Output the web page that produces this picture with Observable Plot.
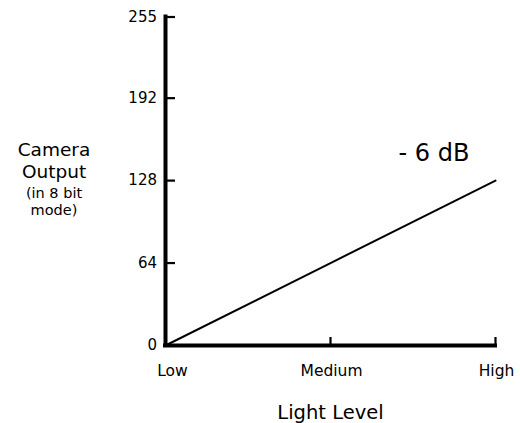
<!DOCTYPE html>
<html>
<head>
<meta charset="utf-8">
<script src="https://cdn.jsdelivr.net/npm/d3@7"></script>
<script src="https://cdn.jsdelivr.net/npm/@observablehq/plot@0.6"></script>
<style>
  html, body { margin: 0; padding: 0; background: #fff; }
  svg { display: block; }
</style>
</head>
<body>
<div id="chart"></div>
<script>
const levels = ["Low", "Medium", "High"];
const outputValues = [0, 64, 128];
const yTicks = [0, 64, 128, 192, 255];
const yTickLabels = ["0", "64", "128", "192", "255"];
const seriesLabel = "- 6 dB";
const xTitle = "Light Level";
const yTitleMain = "Camera\nOutput";
const yTitleSub = "(in 8 bit\nmode)";

const lineData = levels.map((l, i) => ({level: l, value: outputValues[i]}));
const FONT = "DejaVu Sans, Liberation Sans, Arial, sans-serif";

const chart = Plot.plot({
  width: 520,
  height: 423,
  marginLeft: 164.5,
  marginRight: 25,
  marginTop: 16.5,
  marginBottom: 78,
  style: {fontFamily: FONT, background: "#fff"},
  x: {type: "point", domain: levels, padding: 0, axis: null},
  y: {domain: [0, 255], axis: null},
  marks: [
    // y ticks (inward)
    Plot.ruleY(yTicks, {y: d => d, x1: () => "Low", x2: () => "Low", insetRight: -10, stroke: "#000", strokeWidth: 2.2}),
    // x ticks (inward, upward)
    Plot.ruleX(levels.slice(1), {x: d => d, y1: () => 0, y2: () => 0, insetTop: -8, stroke: "#000", strokeWidth: 2.2}),
    // axis lines
    Plot.ruleX(["Low"], {x: d => d, y1: 0, y2: 255, stroke: "#000", strokeWidth: 4, strokeLinecap: "square"}),
    Plot.ruleY([0], {y: d => d, x1: () => "Low", x2: () => "High", stroke: "#000", strokeWidth: 4, strokeLinecap: "square"}),
    // the response line
    Plot.line(lineData, {x: "level", y: "value", stroke: "#000", strokeWidth: 2}),
    // y tick labels
    Plot.text(yTicks, {x: () => "Low", y: d => d, text: (d, i) => yTickLabels[i], textAnchor: "end", dx: -8.5, fontSize: 15, fill: "#000"}),
    // x tick labels
    Plot.text(levels.slice(0, 1), {x: d => d, y: () => 0, text: d => d, dx: 7, dy: 30, lineAnchor: "bottom", fontSize: 15.5, fill: "#000"}),
    Plot.text(levels.slice(1), {x: d => d, y: () => 0, text: d => d, dx: 1, dy: 30, lineAnchor: "bottom", fontSize: 15.5, fill: "#000"}),
    // series annotation
    Plot.text([seriesLabel], {x: () => "High", y: () => 128, text: d => d, textAnchor: "start", lineAnchor: "bottom", dx: -97, dy: -20, fontSize: 24, fill: "#000"}),
    // x title
    Plot.text([xTitle], {x: () => "Medium", y: () => 0, text: d => d, lineAnchor: "bottom", dy: 73, fontSize: 19.5, fill: "#000"}),
    // y title
    Plot.text([yTitleMain], {frameAnchor: "top-left", text: d => d, textAnchor: "middle", lineAnchor: "bottom", lineHeight: 1.17, dx: -111, dy: 161, fontSize: 18.5, fill: "#000"}),
    Plot.text([yTitleSub], {frameAnchor: "top-left", text: d => d, textAnchor: "middle", lineAnchor: "bottom", lineHeight: 1.12, dx: -111, dy: 197.5, fontSize: 14.5, fill: "#000"})
  ]
});
document.getElementById("chart").appendChild(chart);
</script>
</body>
</html>
